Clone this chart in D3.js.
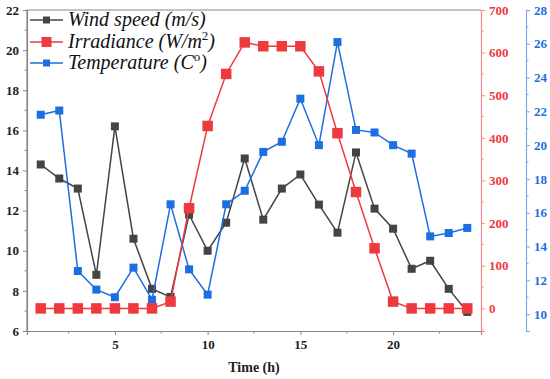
<!DOCTYPE html>
<meta charset="utf-8">
<title>Wind, irradiance, temperature</title>
<style>
body { margin: 0; background: #fff; }
svg { display: block; }
.legend text { font-family: "Liberation Serif", serif; font-style: italic; font-size: 20px; fill: #111; }
</style>
<svg width="550" height="379"></svg>
<script src="https://cdn.jsdelivr.net/npm/d3@7"></script>
<script>
  var hours = d3.range(1, 25)
  var wind = [14.3, 13.6, 13.1, 8.8, 16.2, 10.6, 8.1, 7.7, 11.8, 10.0, 11.4, 14.6,
              11.55, 13.1, 13.8, 12.3, 10.9, 14.9, 12.1, 11.1, 9.1, 9.5, 8.1, 6.95]
  var irradiance = [0, 0, 0, 0, 0, 0, 0, 16, 235, 428, 550, 624,
                    615, 615, 615, 556, 411, 273, 141, 16, 0, 0, 0, 0]
  var temperature = [21.8, 22.05, 12.55, 11.45, 11.0, 12.75, 10.85, 16.5, 12.65, 11.15, 16.5, 17.3,
                     19.6, 20.2, 22.75, 20.0, 26.1, 20.9, 20.75, 20.0, 19.5, 14.6, 14.8, 15.1]
  var xTicks = [5, 10, 15, 20]
  var windTicks = [6, 8, 10, 12, 14, 16, 18, 20, 22]
  var irrTicks = [0, 100, 200, 300, 400, 500, 600, 700]
  var tempTicks = [10, 12, 14, 16, 18, 20, 22, 24, 26, 28]

  var gray = "#444", red = "#ee3a3e", blue = "#1c6fe0"
  var svg = d3.select("svg"),
    pLeft = 27, pRight = 481, pTop = 10, pBottom = 331, blueX = 526

  var x = d3.scaleLinear().domain([0.26, 24.74]).range([pLeft, pRight])
  var yWind = d3.scaleLinear().domain([6, 22]).range([pBottom, pTop])
  var yIrr = d3.scaleLinear().domain([-53, 700]).range([pBottom, pTop])
  var yTemp = d3.scaleLinear().domain([9, 28]).range([pBottom, pTop])

  // frame
  svg.append("path")
    .attr("d", "M" + pLeft + "," + pBottom + "V" + pTop + "H" + pRight)
    .attr("fill", "none").attr("stroke", "#888").attr("stroke-width", 1.2)

  function styleAxis(g, lineColor, textColor) {
    g.attr("font-family", "'Liberation Serif', serif").attr("font-weight", "bold").attr("font-size", 13)
    g.select(".domain").attr("stroke", lineColor).attr("stroke-width", 1.2)
    g.selectAll(".tick line").attr("stroke", lineColor)
    g.selectAll(".tick text").attr("fill", textColor)
      .style("font-family", "'Liberation Serif', serif").style("font-weight", "bold")
  }

  // x axis
  var gx = svg.append("g").attr("transform", "translate(0," + pBottom + ")")
    .call(d3.axisBottom(x).tickValues(xTicks).tickSize(4).tickPadding(5))
  styleAxis(gx, "#888", "#222")
  gx.selectAll(".mx").data([2.5, 7.5, 12.5, 17.5, 22.5]).enter().append("line")
    .attr("x1", x).attr("x2", x).attr("y1", 0).attr("y2", 2.5).attr("stroke", "#888")

  // left axis
  var gl = svg.append("g").attr("transform", "translate(" + pLeft + ",0)")
    .call(d3.axisLeft(yWind).tickValues(windTicks).tickSize(4).tickPadding(4))
  styleAxis(gl, "#888", "#222")
  gl.selectAll(".my").data(d3.range(7, 22, 2)).enter().append("line")
    .attr("y1", yWind).attr("y2", yWind).attr("x1", 0).attr("x2", -2.5).attr("stroke", "#888")

  // red axis
  var gr = svg.append("g").attr("transform", "translate(" + pRight + ",0)")
    .call(d3.axisRight(yIrr).tickValues(irrTicks).tickSize(4).tickPadding(4))
  styleAxis(gr, "#f08a8c", red)
  gr.selectAll(".mr").data(d3.range(-50, 700, 100)).enter().append("line")
    .attr("y1", yIrr).attr("y2", yIrr).attr("x1", 0).attr("x2", 2.5).attr("stroke", "#f08a8c")

  // blue axis
  var gb = svg.append("g").attr("transform", "translate(" + blueX + ",0)")
    .call(d3.axisRight(yTemp).tickValues(tempTicks).tickSize(4).tickPadding(4))
  styleAxis(gb, "#7aa8ea", blue)
  gb.selectAll(".mb").data(d3.range(11, 28, 2)).enter().append("line")
    .attr("y1", yTemp).attr("y2", yTemp).attr("x1", 0).attr("x2", 2.5).attr("stroke", "#7aa8ea")

  // x label
  svg.append("text").attr("x", 254).attr("y", 372).attr("text-anchor", "middle")
    .attr("font-family", "'Liberation Serif', serif").attr("font-weight", "bold").attr("font-size", 14)
    .attr("fill", "#222").text("Time (h)")

  function series(vals, yScale, color, size) {
    var pts = hours.map(function(h, i) { return [x(h), yScale(vals[i])] })
    svg.append("path").datum(pts).attr("d", d3.line())
      .attr("fill", "none").attr("stroke", color).attr("stroke-width", 1.5)
    svg.append("g").selectAll("rect").data(pts).enter().append("rect")
      .attr("x", function(d) { return d[0] - size / 2 })
      .attr("y", function(d) { return d[1] - size / 2 })
      .attr("width", size).attr("height", size).attr("fill", color)
  }

  series(wind, yWind, gray, 8)
  series(temperature, yTemp, blue, 8)
  series(irradiance, yIrr, red, 10.5)

  // legend
  var legend = [
    { color: gray, size: 7, y: 20, parts: [["Wind speed (m/s)", null]] },
    { color: red, size: 10, y: 42, parts: [["Irradiance (W/m", null], ["2", "sup"], [")", null]] },
    { color: blue, size: 7, y: 63, parts: [["Temperature (C", null], ["o", "sup"], [")", null]] }
  ]
  var lg = svg.append("g").attr("class", "legend")
  legend.forEach(function(l) {
    lg.append("line").attr("x1", 30).attr("x2", 63).attr("y1", l.y).attr("y2", l.y)
      .attr("stroke", l.color).attr("stroke-width", 1.5)
    lg.append("rect").attr("x", 46.5 - l.size / 2).attr("y", l.y - l.size / 2)
      .attr("width", l.size).attr("height", l.size).attr("fill", l.color)
    var t = lg.append("text").attr("x", 68).attr("y", l.y + 6)
    l.parts.forEach(function(p) {
      var s = t.append("tspan").text(p[0])
      if (p[1] == "sup") s.attr("dy", -8).attr("font-size", 13).attr("font-style", "normal")
      else if (t.selectAll("tspan").size() > 1) s.attr("dy", 8)
    })
  })
</script>
